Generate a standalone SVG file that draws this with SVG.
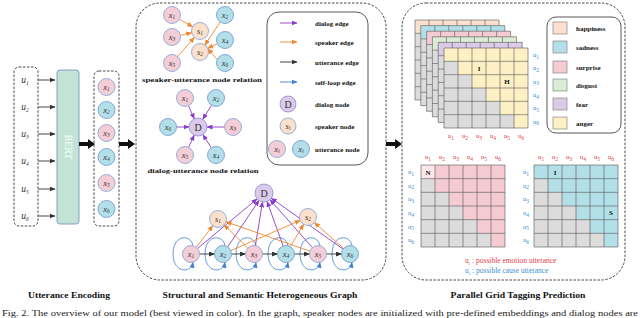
<svg xmlns="http://www.w3.org/2000/svg" width="640" height="318" viewBox="0 0 640 318">
<defs>
<style>
.pk{fill:#f4cdd6;stroke:#7f9fd8;stroke-width:0.8}
.bl{fill:#b2dfe8;stroke:#6e93cf;stroke-width:0.8}
.sp{fill:#fbe0cc;stroke:#7f9fd8;stroke-width:0.8}
.dn{fill:#dccaea;stroke:#8a86d0;stroke-width:0.8}
.lbl{font-family:"Liberation Serif",serif;font-style:italic;font-size:8.5px;fill:#333;text-anchor:middle}
.dl{font-family:"Liberation Serif",serif;font-size:10px;fill:#333;text-anchor:middle}
.sb{font-size:5.5px}
.t{font-family:"Liberation Serif",serif;font-weight:bold;fill:#111}
.dash{fill:none;stroke:#333;stroke-width:0.9;stroke-dasharray:2.5 1.5}
.ep{stroke:#8a3cc8;stroke-width:0.9;marker-end:url(#ap)}
.eo{stroke:#f2872f;stroke-width:0.9;marker-end:url(#ao)}
.ek{stroke:#333;stroke-width:0.9;marker-end:url(#ak)}
.eb{stroke:#3f7fd6;stroke-width:0.9;marker-end:url(#ab)}
.loop{fill:none;stroke:#3f7fd6;stroke-width:0.8;marker-end:url(#ab)}
.gl{font-family:"Liberation Serif",serif;font-size:6.5px;text-anchor:middle}
.red{fill:#e0404a}
.blu{fill:#3d8fd8}
.cl{font-family:"Liberation Serif",serif;font-weight:bold;font-size:7px;fill:#111;text-anchor:middle}
</style>
<marker id="ap" markerUnits="userSpaceOnUse" markerWidth="6" markerHeight="5" refX="5.5" refY="2.5" orient="auto"><path d="M0,0L6,2.5L0,5z" fill="#8a3cc8"/></marker>
<marker id="ao" markerUnits="userSpaceOnUse" markerWidth="6" markerHeight="5" refX="5.5" refY="2.5" orient="auto"><path d="M0,0L6,2.5L0,5z" fill="#f2872f"/></marker>
<marker id="ak" markerUnits="userSpaceOnUse" markerWidth="6" markerHeight="5" refX="5.5" refY="2.5" orient="auto"><path d="M0,0L6,2.5L0,5z" fill="#333"/></marker>
<marker id="ab" markerUnits="userSpaceOnUse" markerWidth="6" markerHeight="5" refX="5.5" refY="2.5" orient="auto"><path d="M0,0L6,2.5L0,5z" fill="#3f7fd6"/></marker>
<path id="stair" d="M0,13.33H14V26.67H28V40H42V53.33H56V66.67H70V80H0Z" fill="#dcdcdc"/>
<path id="grid" d="M0,0H84V80H0Z M14,0V80 M28,0V80 M42,0V80 M56,0V80 M70,0V80 M0,13.33H84 M0,26.67H84 M0,40H84 M0,53.33H84 M0,66.67H84" fill="none" stroke="#555" stroke-width="0.6" vector-effect="non-scaling-stroke"/>
</defs>
<rect width="640" height="318" fill="#fff"/>

<!-- ===== Utterance Encoding ===== -->
<g id="utterances">
<rect class="dash" x="14" y="67" width="24" height="159" rx="5"/>
<text class="lbl" style="font-size:9.5px" x="25" y="83">u<tspan class="sb" dy="1.8">1</tspan></text>
<text class="lbl" style="font-size:9.5px" x="25" y="110">u<tspan class="sb" dy="1.8">2</tspan></text>
<text class="lbl" style="font-size:9.5px" x="25" y="137">u<tspan class="sb" dy="1.8">3</tspan></text>
<text class="lbl" style="font-size:9.5px" x="25" y="164">u<tspan class="sb" dy="1.8">4</tspan></text>
<text class="lbl" style="font-size:9.5px" x="25" y="192">u<tspan class="sb" dy="1.8">5</tspan></text>
<text class="lbl" style="font-size:9.5px" x="25" y="219">u<tspan class="sb" dy="1.8">6</tspan></text>
</g>
<g id="bert">
<rect x="57" y="70" width="22" height="154" rx="3" fill="#c3e4d5" stroke="#7c95c2" stroke-width="0.9"/>
<text x="68" y="147" transform="rotate(90 68 147)" font-family="'Liberation Serif',serif" font-size="10" fill="#fff" text-anchor="middle" dominant-baseline="central">BERT</text>
</g>
<g id="encoded">
<rect class="dash" x="94" y="71" width="25" height="155" rx="5"/>
<circle class="pk" cx="106.5" cy="87" r="8.5"/><text class="lbl" x="106.5" y="89.5">x<tspan class="sb" dy="1.8">1</tspan></text>
<circle class="bl" cx="106.5" cy="110" r="8.5"/><text class="lbl" x="106.5" y="112.5">x<tspan class="sb" dy="1.8">2</tspan></text>
<circle class="pk" cx="106.5" cy="133" r="8.5"/><text class="lbl" x="106.5" y="135.5">x<tspan class="sb" dy="1.8">3</tspan></text>
<circle class="bl" cx="106.5" cy="157" r="8.5"/><text class="lbl" x="106.5" y="159.5">x<tspan class="sb" dy="1.8">4</tspan></text>
<circle class="pk" cx="106.5" cy="183" r="8.5"/><text class="lbl" x="106.5" y="185.5">x<tspan class="sb" dy="1.8">5</tspan></text>
<circle class="bl" cx="106.5" cy="209" r="8.5"/><text class="lbl" x="106.5" y="211.5">x<tspan class="sb" dy="1.8">6</tspan></text>
</g>

<!-- ===== Middle panel ===== -->
<rect class="dash" x="136" y="3" width="250" height="277" rx="24"/>

<g id="connectors">
<line class="ek" x1="38" y1="80" x2="55" y2="80"/>
<line class="ek" x1="38" y1="107" x2="55" y2="107"/>
<line class="ek" x1="38" y1="134" x2="55" y2="134"/>
<line class="ek" x1="38" y1="161" x2="55" y2="161"/>
<line class="ek" x1="38" y1="189" x2="55" y2="189"/>
<line class="ek" x1="38" y1="216" x2="55" y2="216"/>
<polygon points="79,142 88,142 88,139 95,144 88,149 88,146 79,146" fill="#111"/>
<polygon points="119,142 128,142 128,139 135,144 128,149 128,146 119,146" fill="#111"/>
<polygon points="386,142 395,142 395,139 402,144 395,149 395,146 386,146" fill="#111"/>
<line class="eo" x1="179.4" y1="19.2" x2="192.6" y2="26.8"/>
<line class="eo" x1="180.3" y1="35.2" x2="191.7" y2="32.8"/>
<line class="eo" x1="177.6" y1="56.6" x2="194.4" y2="37.4"/>
<line class="eo" x1="220.2" y1="22" x2="204.8" y2="45"/>
<line class="eo" x1="217.3" y1="43.7" x2="207.7" y2="48.3"/>
<line class="eo" x1="217.2" y1="59.6" x2="207.8" y2="48.6"/>
<line class="ep" x1="188.5" y1="105.8" x2="194.3" y2="118.8"/>
<line class="ep" x1="211.5" y1="105.2" x2="202.8" y2="119.3"/>
<line class="ep" x1="176.5" y1="127" x2="189" y2="127"/>
<line class="ep" x1="224.5" y1="127" x2="207" y2="127"/>
<line class="ep" x1="188.6" y1="147.3" x2="194.2" y2="135.2"/>
<line class="ep" x1="211.4" y1="147.9" x2="202.9" y2="134.6"/>
<path class="loop" d="M193,245.7 C191,234 173,234 173,254 C173,273 191,274 193,262.3"/>
<path class="loop" d="M225,245.7 C223,234 205,234 205,254 C205,273 223,274 225,262.3"/>
<path class="loop" d="M256,245.7 C254,234 236,234 236,254 C236,273 254,274 256,262.3"/>
<path class="loop" d="M288,245.7 C286,234 268,234 268,254 C268,273 286,274 288,262.3"/>
<path class="loop" d="M320,245.7 C318,234 300,234 300,254 C300,273 318,274 320,262.3"/>
<path class="loop" d="M352,245.7 C350,234 332,234 332,254 C332,273 350,274 352,262.3"/>
<line class="ep" x1="197.5" y1="248.5" x2="257.1" y2="198.8"/>
<line class="ep" x1="227.7" y1="246.9" x2="259" y2="200.5"/>
<line class="ep" x1="255.4" y1="245.6" x2="262.5" y2="201.9"/>
<line class="ep" x1="283.1" y1="246" x2="267.1" y2="201.5"/>
<line class="ep" x1="312.4" y1="247.6" x2="270" y2="199.7"/>
<line class="ep" x1="343.1" y1="249.1" x2="271.3" y2="198.2"/>
<line class="eo" x1="196.2" y1="247.3" x2="212.8" y2="225.7"/>
<line class="eo" x1="247.9" y1="248.1" x2="224.1" y2="224.9"/>
<line class="eo" x1="310" y1="251.2" x2="226" y2="221.8"/>
<line class="eo" x1="230.8" y1="250.6" x2="300.2" y2="220.4"/>
<line class="eo" x1="290.3" y1="246.7" x2="303.7" y2="224.3"/>
<line class="eo" x1="343.6" y1="248.4" x2="314.4" y2="222.6"/>
<line class="ek" x1="199.5" y1="254" x2="214.5" y2="254"/>
<line class="ek" x1="231.5" y1="254" x2="245.5" y2="254"/>
<line class="ek" x1="262.5" y1="254" x2="277.5" y2="254"/>
<line class="ek" x1="294.5" y1="254" x2="309.5" y2="254"/>
<line class="ek" x1="326.5" y1="254" x2="341.5" y2="254"/>
<line class="ep" x1="280" y1="23" x2="297" y2="23"/>
<line class="eo" x1="280" y1="42" x2="297" y2="42"/>
<line class="ek" x1="280" y1="62" x2="297" y2="62"/>
<line class="eb" x1="280" y1="82" x2="297" y2="82"/>
</g>

<g id="speaker-utterance">
<circle class="pk" cx="172" cy="15" r="8.5"/><text class="lbl" x="172" y="17.5">x<tspan class="sb" dy="1.8">1</tspan></text>
<circle class="pk" cx="172" cy="37" r="8.5"/><text class="lbl" x="172" y="39.5">x<tspan class="sb" dy="1.8">3</tspan></text>
<circle class="pk" cx="172" cy="63" r="8.5"/><text class="lbl" x="172" y="65.5">x<tspan class="sb" dy="1.8">5</tspan></text>
<circle class="sp" cx="200" cy="31" r="8.5"/><text class="lbl" x="200" y="33.5">s<tspan class="sb" dy="1.8">1</tspan></text>
<circle class="sp" cx="200" cy="52" r="8.5"/><text class="lbl" x="200" y="54.5">s<tspan class="sb" dy="1.8">2</tspan></text>
<circle class="bl" cx="225" cy="15" r="8.5"/><text class="lbl" x="225" y="17.5">x<tspan class="sb" dy="1.8">2</tspan></text>
<circle class="bl" cx="225" cy="40" r="8.5"/><text class="lbl" x="225" y="42.5">x<tspan class="sb" dy="1.8">4</tspan></text>
<circle class="bl" cx="225" cy="63" r="8.5"/><text class="lbl" x="225" y="65.5">x<tspan class="sb" dy="1.8">6</tspan></text>
<text class="cl" x="202" y="82" textLength="120" lengthAdjust="spacingAndGlyphs">speaker-utterance node relation</text>
</g>

<g id="dialog-utterance">
<circle class="dn" cx="198" cy="127" r="9"/><text class="dl" x="198" y="130.5">D</text>
<circle class="pk" cx="185" cy="98" r="8.5"/><text class="lbl" x="185" y="100.5">x<tspan class="sb" dy="1.8">1</tspan></text>
<circle class="bl" cx="216" cy="98" r="8.5"/><text class="lbl" x="216" y="100.5">x<tspan class="sb" dy="1.8">2</tspan></text>
<circle class="bl" cx="168" cy="127" r="8.5"/><text class="lbl" x="168" y="129.5">x<tspan class="sb" dy="1.8">6</tspan></text>
<circle class="pk" cx="233" cy="127" r="8.5"/><text class="lbl" x="233" y="129.5">x<tspan class="sb" dy="1.8">3</tspan></text>
<circle class="pk" cx="185" cy="155" r="8.5"/><text class="lbl" x="185" y="157.5">x<tspan class="sb" dy="1.8">5</tspan></text>
<circle class="bl" cx="216" cy="155" r="8.5"/><text class="lbl" x="216" y="157.5">x<tspan class="sb" dy="1.8">4</tspan></text>
<text class="cl" x="203" y="173" textLength="111" lengthAdjust="spacingAndGlyphs">dialog-utterance node relation</text>
</g>

<g id="legend-graph">
<rect x="267" y="12" width="101" height="153" rx="12" fill="none" stroke="#444" stroke-width="0.9"/>
<text class="t" font-size="7" x="315" y="25.5">dialog edge</text>
<text class="t" font-size="7" x="315" y="44.5">speaker edge</text>
<text class="t" font-size="7" x="315" y="64.5">utterance edge</text>
<text class="t" font-size="7" x="315" y="84.5">self-loop edge</text>
<circle class="dn" cx="288" cy="104" r="8"/><text class="dl" x="288" y="107.5">D</text>
<text class="t" font-size="7" x="315" y="106.5">dialog node</text>
<circle class="sp" cx="288" cy="126" r="8"/><text class="lbl" x="288" y="128.5">s<tspan class="sb" dy="1.8">i</tspan></text>
<text class="t" font-size="7" x="315" y="128.5">speaker node</text>
<circle class="pk" cx="277" cy="149" r="8.5"/><text class="lbl" x="277" y="151.5">x<tspan class="sb" dy="1.8">i</tspan></text>
<circle class="bl" cx="301" cy="149" r="8.5"/><text class="lbl" x="301" y="151.5">x<tspan class="sb" dy="1.8">i</tspan></text>
<text class="t" font-size="7" x="315" y="151.5">utterance node</text>
</g>

<g id="graph-D"><circle class="dn" cx="264" cy="193" r="9"/><text class="dl" x="264" y="196.5">D</text></g>
<g id="graph-s1"><circle class="sp" cx="218" cy="219" r="8.5"/><text class="lbl" x="218" y="221.5">s<tspan class="sb" dy="1.8">1</tspan></text></g>
<g id="graph-s2"><circle class="sp" cx="308" cy="217" r="8.5"/><text class="lbl" x="308" y="219.5">s<tspan class="sb" dy="1.8">2</tspan></text></g>
<g id="graph-x1"><circle class="pk" cx="191" cy="254" r="8.5"/><text class="lbl" x="191" y="256.5">x<tspan class="sb" dy="1.8">1</tspan></text></g>
<g id="graph-x2"><circle class="bl" cx="223" cy="254" r="8.5"/><text class="lbl" x="223" y="256.5">x<tspan class="sb" dy="1.8">2</tspan></text></g>
<g id="graph-x3"><circle class="pk" cx="254" cy="254" r="8.5"/><text class="lbl" x="254" y="256.5">x<tspan class="sb" dy="1.8">3</tspan></text></g>
<g id="graph-x4"><circle class="bl" cx="286" cy="254" r="8.5"/><text class="lbl" x="286" y="256.5">x<tspan class="sb" dy="1.8">4</tspan></text></g>
<g id="graph-x5"><circle class="pk" cx="318" cy="254" r="8.5"/><text class="lbl" x="318" y="256.5">x<tspan class="sb" dy="1.8">5</tspan></text></g>
<g id="graph-x6"><circle class="bl" cx="350" cy="254" r="8.5"/><text class="lbl" x="350" y="256.5">x<tspan class="sb" dy="1.8">6</tspan></text></g>

<!-- ===== Right panel ===== -->
<rect class="dash" x="402" y="3" width="223" height="277" rx="24"/>

<g id="grid-stack">
<g transform="translate(415,20)"><rect width="84" height="80" fill="#fbe0cf"/><use href="#stair"/><use href="#grid"/></g>
<g transform="translate(420.8,25.6)"><rect width="84" height="80" fill="#b3e0e8"/><use href="#stair"/><use href="#grid"/></g>
<g transform="translate(426.6,31.2)"><rect width="84" height="80" fill="#f5cbd3"/><use href="#stair"/><use href="#grid"/></g>
<g transform="translate(432.4,36.8)"><rect width="84" height="80" fill="#dcebd3"/><use href="#stair"/><use href="#grid"/></g>
<g transform="translate(438.2,42.4)"><rect width="84" height="80" fill="#dccbe6"/><use href="#stair"/><use href="#grid"/></g>
<g transform="translate(444,48)"><rect width="84" height="80" fill="#fdf0c4"/><use href="#stair"/><use href="#grid"/></g>
<text class="t" font-size="7" x="479" y="70.5" text-anchor="middle">I</text>
<text class="t" font-size="7" x="507" y="83.8" text-anchor="middle">H</text>
<g class="gl blu">
<text x="536" y="57">u<tspan class="sb" dy="1.5">1</tspan></text>
<text x="536" y="70.3">u<tspan class="sb" dy="1.5">2</tspan></text>
<text x="536" y="83.7">u<tspan class="sb" dy="1.5">3</tspan></text>
<text x="536" y="97">u<tspan class="sb" dy="1.5">4</tspan></text>
<text x="536" y="110.3">u<tspan class="sb" dy="1.5">5</tspan></text>
<text x="536" y="123.7">u<tspan class="sb" dy="1.5">6</tspan></text>
</g>
<g class="gl red">
<text x="451" y="138">u<tspan class="sb" dy="1.5">1</tspan></text>
<text x="465" y="138">u<tspan class="sb" dy="1.5">2</tspan></text>
<text x="479" y="138">u<tspan class="sb" dy="1.5">3</tspan></text>
<text x="493" y="138">u<tspan class="sb" dy="1.5">4</tspan></text>
<text x="507" y="138">u<tspan class="sb" dy="1.5">5</tspan></text>
<text x="521" y="138">u<tspan class="sb" dy="1.5">6</tspan></text>
</g>
</g>

<g id="legend-emotion">
<rect x="547" y="17" width="74" height="116" rx="9" fill="none" stroke="#444" stroke-width="0.9"/>
<rect x="553" y="22" width="14" height="12" fill="#fbe0cf" stroke="#777" stroke-width="0.6"/>
<rect x="553" y="41" width="14" height="12" fill="#b3e0e8" stroke="#777" stroke-width="0.6"/>
<rect x="553" y="61" width="14" height="12" fill="#f5cbd3" stroke="#777" stroke-width="0.6"/>
<rect x="553" y="79" width="14" height="12" fill="#dcebd3" stroke="#777" stroke-width="0.6"/>
<rect x="553" y="98" width="14" height="12" fill="#dccbe6" stroke="#777" stroke-width="0.6"/>
<rect x="553" y="117" width="14" height="12" fill="#fdf0c4" stroke="#777" stroke-width="0.6"/>
<text class="t" font-size="7" x="576" y="30.5">happiness</text>
<text class="t" font-size="7" x="576" y="49.5">sadness</text>
<text class="t" font-size="7" x="576" y="69.5">surprise</text>
<text class="t" font-size="7" x="576" y="87.5">disgust</text>
<text class="t" font-size="7" x="576" y="106.5">fear</text>
<text class="t" font-size="7" x="576" y="125.5">anger</text>
</g>

<g id="grid-emotion">
<g transform="translate(421,165) scale(1,1.025)"><rect width="84" height="80" fill="#f5cbd3"/><use href="#stair"/><rect width="14" height="13.33" fill="#fbe6ea"/><use href="#grid"/></g>
<text class="t" font-size="7" x="428" y="175" text-anchor="middle">N</text>
<g class="gl red">
<text x="428" y="159">u<tspan class="sb" dy="1.5">1</tspan></text>
<text x="442" y="159">u<tspan class="sb" dy="1.5">2</tspan></text>
<text x="456" y="159">u<tspan class="sb" dy="1.5">3</tspan></text>
<text x="470" y="159">u<tspan class="sb" dy="1.5">4</tspan></text>
<text x="484" y="159">u<tspan class="sb" dy="1.5">5</tspan></text>
<text x="498" y="159">u<tspan class="sb" dy="1.5">6</tspan></text>
</g>
<g class="gl blu">
<text x="411" y="174">u<tspan class="sb" dy="1.5">1</tspan></text>
<text x="411" y="187.7">u<tspan class="sb" dy="1.5">2</tspan></text>
<text x="411" y="201.3">u<tspan class="sb" dy="1.5">3</tspan></text>
<text x="411" y="215">u<tspan class="sb" dy="1.5">4</tspan></text>
<text x="411" y="228.7">u<tspan class="sb" dy="1.5">5</tspan></text>
<text x="411" y="242.3">u<tspan class="sb" dy="1.5">6</tspan></text>
</g>
</g>

<g id="grid-cause">
<g transform="translate(534,165) scale(1,1.025)"><rect width="84" height="80" fill="#b3e0e8"/><use href="#stair"/><use href="#grid"/></g>
<text class="t" font-size="7" x="555" y="175" text-anchor="middle">I</text>
<text class="t" font-size="7" x="611" y="215.3" text-anchor="middle">S</text>
<g class="gl red">
<text x="541" y="159">u<tspan class="sb" dy="1.5">1</tspan></text>
<text x="555" y="159">u<tspan class="sb" dy="1.5">2</tspan></text>
<text x="569" y="159">u<tspan class="sb" dy="1.5">3</tspan></text>
<text x="583" y="159">u<tspan class="sb" dy="1.5">4</tspan></text>
<text x="597" y="159">u<tspan class="sb" dy="1.5">5</tspan></text>
<text x="611" y="159">u<tspan class="sb" dy="1.5">6</tspan></text>
</g>
<g class="gl blu">
<text x="526" y="174">u<tspan class="sb" dy="1.5">1</tspan></text>
<text x="526" y="187.7">u<tspan class="sb" dy="1.5">2</tspan></text>
<text x="526" y="201.3">u<tspan class="sb" dy="1.5">3</tspan></text>
<text x="526" y="215">u<tspan class="sb" dy="1.5">4</tspan></text>
<text x="526" y="228.7">u<tspan class="sb" dy="1.5">5</tspan></text>
<text x="526" y="242.3">u<tspan class="sb" dy="1.5">6</tspan></text>
</g>
</g>

<g id="grid-notes" font-family="'Liberation Serif',serif" font-size="7.5">
<text class="red" x="465" y="263">u<tspan font-size="5" dy="1.5">i</tspan><tspan dy="-1.5"> : possible emotion utterance</tspan></text>
<text class="blu" x="465" y="273">u<tspan font-size="5" dy="1.5">i</tspan><tspan dy="-1.5"> : possible cause utterance</tspan></text>
</g>

<g id="titles">
<text class="t" font-size="8.5" x="69" y="298" text-anchor="middle" textLength="82" lengthAdjust="spacingAndGlyphs">Utterance Encoding</text>
<text class="t" font-size="8.5" x="260" y="298" text-anchor="middle" textLength="195" lengthAdjust="spacingAndGlyphs">Structural and Semantic Heterogeneous Graph</text>
<text class="t" font-size="8.5" x="518" y="298" text-anchor="middle" textLength="135" lengthAdjust="spacingAndGlyphs">Parallel Grid Tagging Prediction</text>
</g>
<text id="caption" x="2" y="315.5" font-family="'Liberation Serif',serif" font-size="9" fill="#222" textLength="636" lengthAdjust="spacingAndGlyphs">Fig. 2.  The overview of our model (best viewed in color). In the graph, speaker nodes are initialized with pre-defined embeddings and dialog nodes are</text>
</svg>
